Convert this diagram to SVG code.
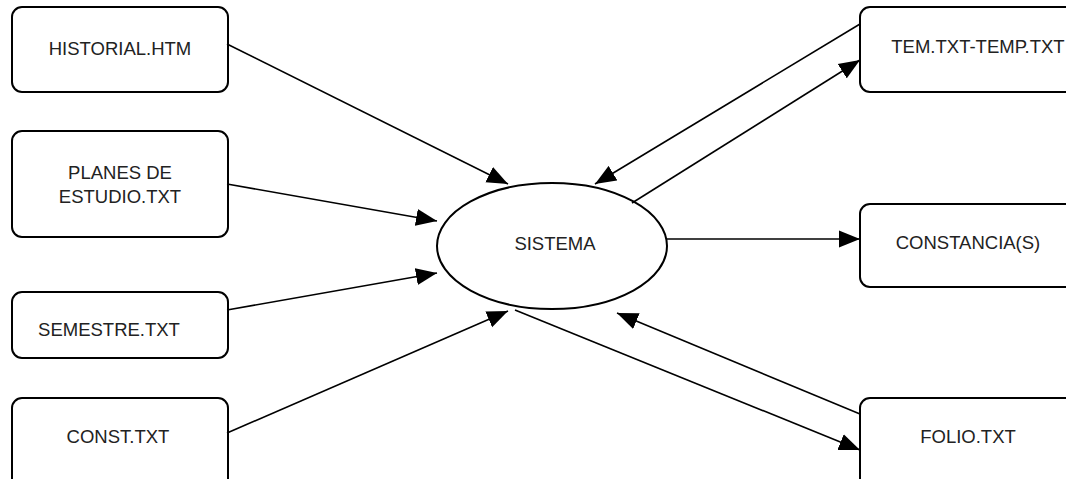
<svg xmlns="http://www.w3.org/2000/svg" width="1066" height="479" viewBox="0 0 1066 479">
<style>
.box{fill:#fff;stroke:#000;stroke-width:2}
.lbl{font-family:"Liberation Sans",Arial,sans-serif;font-size:18.5px;fill:#222;text-anchor:middle}
.conn{stroke:#000;stroke-width:1.6;fill:none;marker-end:url(#ah)}
</style>
<defs>
<marker id="ah" markerUnits="userSpaceOnUse" markerWidth="22" markerHeight="18" refX="21" refY="8.5" orient="auto" viewBox="0 0 22 17">
<path d="M0,0 L21,8.5 L0,17 Z" fill="#000"/>
</marker>
</defs>
<rect width="1066" height="479" fill="#fff"/>
<g id="historial"><rect class="box" x="12" y="7" width="216" height="85" rx="10"/><text class="lbl" x="120" y="55">HISTORIAL.HTM</text></g>
<g id="planes"><rect class="box" x="12" y="131" width="216" height="106" rx="10"/><text class="lbl" x="120" y="179">PLANES DE</text><text class="lbl" x="120" y="203">ESTUDIO.TXT</text></g>
<g id="semestre"><rect class="box" x="12" y="292" width="216" height="66" rx="10"/><text class="lbl" x="109" y="336">SEMESTRE.TXT</text></g>
<g id="const"><rect class="box" x="12" y="398" width="216" height="100" rx="10"/><text class="lbl" x="118" y="443">CONST.TXT</text></g>
<g id="sistema"><ellipse class="box" cx="552" cy="246" rx="115" ry="63"/><text class="lbl" x="555" y="250">SISTEMA</text></g>
<g id="tem"><rect class="box" x="860" y="7" width="230" height="85" rx="10"/><text class="lbl" x="978" y="53">TEM.TXT-TEMP.TXT</text></g>
<g id="constancia"><rect class="box" x="860" y="204" width="230" height="83" rx="10"/><text class="lbl" x="968" y="249">CONSTANCIA(S)</text></g>
<g id="folio"><rect class="box" x="860" y="398" width="230" height="100" rx="10"/><text class="lbl" x="968" y="443">FOLIO.TXT</text></g>
<g id="connectors">
<line class="conn" x1="227" y1="44" x2="508" y2="184"/>
<line class="conn" x1="227" y1="184" x2="437" y2="221"/>
<line class="conn" x1="227" y1="310" x2="437" y2="273"/>
<line class="conn" x1="227" y1="433" x2="508" y2="311"/>
<line class="conn" x1="632" y1="203" x2="860" y2="60"/>
<line class="conn" x1="860" y1="24" x2="595" y2="184"/>
<line class="conn" x1="667" y1="239" x2="860" y2="239"/>
<line class="conn" x1="860" y1="414" x2="617" y2="313"/>
<line class="conn" x1="515" y1="310" x2="860" y2="450"/>
</g>
</svg>
